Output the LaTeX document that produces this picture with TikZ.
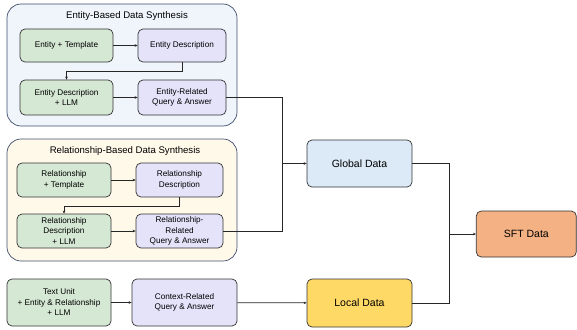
\documentclass[tikz,border=0pt]{standalone}
\usepackage{fontspec}
\setmainfont{Liberation Sans}
\usetikzlibrary{arrows.meta,positioning}
\definecolor{grn}{HTML}{D5E8D4}
\definecolor{pur}{HTML}{E4E3FA}
\definecolor{oblue}{HTML}{EFF5FB}
\definecolor{oyel}{HTML}{FFF9EA}
\definecolor{gblue}{HTML}{DCE9F6}
\definecolor{lyel}{HTML}{FFD966}
\definecolor{sftc}{HTML}{F4B183}
\definecolor{obord}{HTML}{3F4D6B}
\definecolor{ibord}{HTML}{333333}
\tikzset{
  box/.style={draw=ibord,line width=0.7pt,rounded corners=5pt,align=center,font=\fontsize{8.2}{10.5}\selectfont,inner sep=1pt},
  gbox/.style={box,fill=grn},
  pbox/.style={box,fill=pur},
  bigbox/.style={box,font=\fontsize{10.5}{12}\selectfont},
  outer/.style={draw=obord,line width=0.7pt,rounded corners=14pt},
  ttl/.style={font=\fontsize{9.6}{11}\selectfont},
  conn/.style={draw=black!85,line width=0.7pt},
  arr/.style={conn,-{Stealth[length=3pt,width=2.6pt]}}
}
\begin{document}
\begin{tikzpicture}[x=1pt,y=-1pt]
\useasboundingbox (0,0) rectangle (577,329);
% outer containers
\draw[outer,fill=oblue] (7,4) rectangle (237,126);
\node[ttl] (t1) at (127,16.5) {Entity-Based Data Synthesis};
\draw[outer,fill=oyel] (7,139) rectangle (237,261);
\node[ttl] (t2) at (125,151.5) {Relationship-Based Data Synthesis};
% entity block
\node[gbox,minimum width=93pt,minimum height=33pt] (et) at (66.5,45.5) {Entity + Template};
\node[pbox,minimum width=88pt,minimum height=33pt] (ed) at (182,45.5) {Entity Description};
\node[gbox,minimum width=93pt,minimum height=35pt] (el) at (66.5,97.5) {Entity Description\\+ LLM};
\node[pbox,minimum width=88pt,minimum height=35pt] (er) at (182,97.5) {Entity-Related\\Query \& Answer};
% relationship block
\node[gbox,minimum width=94pt,minimum height=34pt] (rt) at (64,180) {Relationship\\+ Template};
\node[pbox,minimum width=87pt,minimum height=34pt] (rd) at (179.5,180) {Relationship\\Description};
\node[gbox,minimum width=94pt,minimum height=34pt] (rl) at (64,231) {Relationship\\Description\\+ LLM};
\node[pbox,minimum width=87pt,minimum height=34pt] (rr) at (179.5,231) {Relationship-\\Related\\Query \& Answer};
% context block
\node[gbox,minimum width=104pt,minimum height=47pt] (tu) at (59,302.5) {Text Unit\\+ Entity \& Relationship\\+ LLM};
\node[pbox,minimum width=105pt,minimum height=47pt] (cr) at (184.5,302.5) {Context-Related\\Query \& Answer};
% data nodes
\node[bigbox,fill=gblue,minimum width=105pt,minimum height=47pt] (gd) at (359.5,163.5) {Global Data};
\node[bigbox,fill=lyel,minimum width=105pt,minimum height=48pt] (ld) at (359.5,303) {Local Data};
\node[bigbox,fill=sftc,minimum width=100pt,minimum height=46pt] (sft) at (526.3,234) {SFT Data};
\coordinate (j1) at (282,163.5);
\coordinate (j2) at (449,234);
% connectors
\draw[arr] (et) -- (ed);
\draw[arr] (ed.south) -- ++(0,9) -| (el.north);
\draw[arr] (el) -- (er);
\draw[arr] (rt) -- (rd);
\draw[arr] (rd.south) -- ++(0,9) -| (rl.north);
\draw[arr] (rl) -- (rr);
\draw[arr] (tu) -- (cr);
\draw[conn] (er.east) -| (j1);
\draw[conn] (rr.east) -| (j1);
\draw[arr] (j1) -- (gd.west);
\draw[arr] (cr) -- (ld);
\draw[conn] (gd.east) -| (j2);
\draw[conn] (ld.east) -| (j2);
\draw[arr] (j2) -- (sft.west);
\end{tikzpicture}
\end{document}
